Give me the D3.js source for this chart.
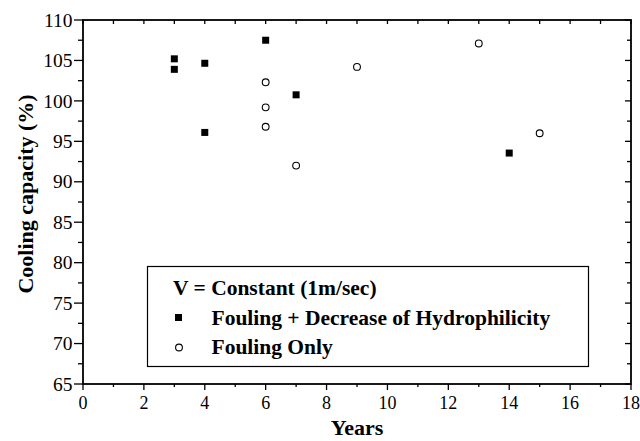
<!DOCTYPE html>
<html>
<head>
<meta charset="utf-8">
<script src="https://cdn.jsdelivr.net/npm/d3@7"></script>
<style>
  body { margin: 0; background: #fff; }
  svg { display: block; }
</style>
</head>
<body>
<svg id="chart" width="640" height="441"></svg>
<script>
// ---- Data ----
const sqYears  = [3, 3, 4, 4, 6, 7, 14];
const sqValues = [105.2, 103.9, 104.65, 96.1, 107.5, 100.75, 93.55];
const ciYears  = [6, 6, 6, 7, 9, 13, 15];
const ciValues = [102.3, 99.2, 96.8, 92.0, 104.2, 107.1, 96.0];
const xTicks = [0, 2, 4, 6, 8, 10, 12, 14, 16, 18];
const yTicks = [65, 70, 75, 80, 85, 90, 95, 100, 105, 110];
const legendTitle = "V = Constant (1m/sec)";
const seriesNames = ["Fouling + Decrease of Hydrophilicity", "Fouling Only"];
const xTitle = "Years";
const yTitle = "Cooling capacity (%)";

const FONT = "'Liberation Serif', 'Times New Roman', Times, 'DejaVu Serif', serif";
const svg = d3.select("#chart").attr("font-family", FONT);
const L = 83, R = 631, T = 20, B = 384;
const x = d3.scaleLinear().domain([0, 18]).range([L, R]);
const y = d3.scaleLinear().domain([65, 110]).range([B, T]);

const xMinor = d3.range(0, 18.01, 1);
const yMinor = d3.range(65, 110.01, 2.5);

// bottom axis (outward)
const gB = svg.append("g").attr("transform", `translate(0,${B})`);
gB.selectAll("line").data(xMinor).join("line")
  .attr("x1", d => x(d)).attr("x2", d => x(d)).attr("y1", 0)
  .attr("y2", d => (d % 2 === 0 ? 6 : 3)).attr("stroke", "#000").attr("stroke-width", 1.3);
gB.selectAll("text").data(xTicks).join("text")
  .attr("x", d => x(d)).attr("y", 24.5).attr("text-anchor", "middle")
  .attr("font-size", 18).attr("font-family", FONT).text(d => d);

// left axis (outward)
const gL = svg.append("g").attr("transform", `translate(${L},0)`);
gL.selectAll("line").data(yMinor).join("line")
  .attr("y1", d => y(d)).attr("y2", d => y(d)).attr("x1", 0)
  .attr("x2", d => (d % 5 === 0 ? -9 : -5)).attr("stroke", "#000").attr("stroke-width", 1.3);
gL.selectAll("text").data(yTicks).join("text")
  .attr("x", -10.5).attr("y", d => y(d)).attr("dy", "0.34em").attr("text-anchor", "end")
  .attr("font-size", 19.5).attr("font-family", FONT).text(d => d);

// top axis (inward)
svg.append("g").selectAll("line").data(xMinor).join("line")
  .attr("x1", d => x(d)).attr("x2", d => x(d)).attr("y1", T).attr("y2", T + 4)
  .attr("stroke", "#000").attr("stroke-width", 1.3);
// right axis (inward)
svg.append("g").selectAll("line").data(yMinor).join("line")
  .attr("y1", d => y(d)).attr("y2", d => y(d)).attr("x1", R)
  .attr("x2", d => (d % 5 === 0 ? R - 6 : R - 4)).attr("stroke", "#000").attr("stroke-width", 1.3);

// frame
svg.append("rect").attr("x", L).attr("y", T).attr("width", R - L).attr("height", B - T)
  .attr("fill", "none").attr("stroke", "#000").attr("stroke-width", 1.8);

// data
const sq = 7;
svg.append("g").selectAll("rect").data(sqYears.map((d, i) => [d, sqValues[i]])).join("rect")
  .attr("x", d => x(d[0]) - sq / 2).attr("y", d => y(d[1]) - sq / 2)
  .attr("width", sq).attr("height", sq).attr("fill", "#000");
svg.append("g").selectAll("circle").data(ciYears.map((d, i) => [d, ciValues[i]])).join("circle")
  .attr("cx", d => x(d[0])).attr("cy", d => y(d[1])).attr("r", 3.4)
  .attr("fill", "#fff").attr("stroke", "#000").attr("stroke-width", 1.1);

// legend
svg.append("rect").attr("x", 147.5).attr("y", 266.5).attr("width", 441).attr("height", 100)
  .attr("fill", "#fff").attr("stroke", "#000").attr("stroke-width", 1.2);
svg.append("text").attr("x", 173).attr("y", 295).attr("font-size", 21.5).attr("font-weight", "bold")
  .attr("font-family", FONT).text(legendTitle);
svg.append("rect").attr("x", 178.5 - 3.5).attr("y", 317.5 - 3.5).attr("width", 7).attr("height", 7).attr("fill", "#000");
svg.append("circle").attr("cx", 179).attr("cy", 347.5).attr("r", 3.4)
  .attr("fill", "#fff").attr("stroke", "#000").attr("stroke-width", 1.1);
svg.append("text").attr("x", 211.5).attr("y", 325).attr("font-size", 21.5).attr("font-weight", "bold")
  .attr("font-family", FONT).text(seriesNames[0]);
svg.append("text").attr("x", 211.5).attr("y", 354).attr("font-size", 21.5).attr("font-weight", "bold")
  .attr("font-family", FONT).text(seriesNames[1]);

// axis titles
svg.append("text").attr("x", (L + R) / 2).attr("y", 435).attr("text-anchor", "middle")
  .attr("font-size", 22).attr("font-weight", "bold").attr("font-family", FONT).text(xTitle);
svg.append("text").attr("transform", `translate(33,194) rotate(-90)`).attr("text-anchor", "middle")
  .attr("font-size", 22).attr("font-weight", "bold").attr("font-family", FONT).text(yTitle);
</script>
</body>
</html>
